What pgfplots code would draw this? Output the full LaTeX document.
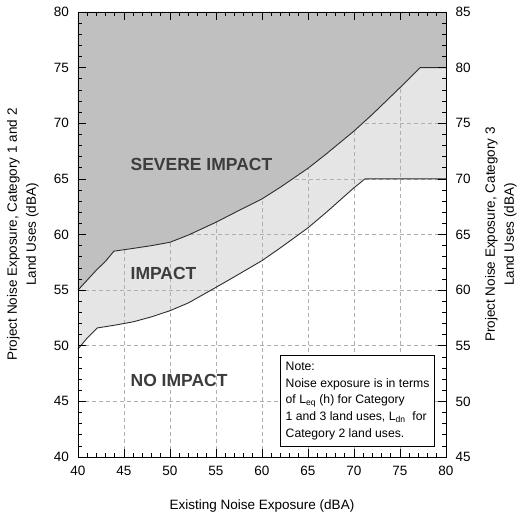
\documentclass[border=0pt]{standalone}
\usepackage{fontspec}
\setmainfont{Liberation Sans}
\usepackage{pgfplots}
\usepackage{pgfplotstable}
\pgfplotsset{compat=1.18}
\definecolor{severe}{RGB}{192,192,192}
\definecolor{impact}{RGB}{229,229,229}
\definecolor{curve}{RGB}{45,45,45}
\definecolor{gridc}{RGB}{175,175,175}
\definecolor{lab}{RGB}{60,60,60}

\pgfplotstableread{
x y
40 49.7
41 50.7
42.1 51.6
44 51.85
46 52.15
48 52.6
50 53.15
52 53.85
55 55.25
57 56.2
60 57.65
62 58.8
65 60.6
67 62.0
70 64.2
71.2 65.0
80 65.0
}\lowercurve

\pgfplotstableread{
x y
40 55.0
42 56.8
43 57.6
43.9 58.5
46 58.75
48 59.0
50 59.3
52 59.95
55 61.1
57 61.95
60 63.2
62 64.25
65 65.95
67 67.25
70 69.3
72 70.8
75 73.2
77.2 75.0
80 75.0
}\uppercurve

\pgfplotsset{base/.style={scale only axis, width=368pt, height=445pt, xmin=40, xmax=80,
  /pgf/number format/assume math mode=true,
  tick label style={font=\fontsize{13.5}{16}\selectfont}}}

\begin{document}
\begin{tikzpicture}
% impact region (below grid)
\begin{axis}[base, ymin=40, ymax=80, hide axis]
\addplot[fill=impact, draw=none] table[x=x,y=y] {\lowercurve} -- (axis cs:80,80) -- (axis cs:40,80) -- cycle;
\end{axis}
% grid, severe region, curves, left/bottom labels
\begin{axis}[base, ymin=40, ymax=80,
  xtick={40,45,...,80}, ytick={40,45,...,80},
  grid=major, major grid style={gridc, dash pattern=on 4pt off 3pt, line width=0.6pt},
  axis line style={draw=none}, major tick length=0pt,
  xticklabel style={yshift=-6pt}, yticklabel shift=5.5pt,
  clip=false]
\addplot[fill=severe, draw=none] table[x=x,y=y] {\uppercurve} -- (axis cs:80,80) -- (axis cs:40,80) -- cycle;
\addplot[curve, line width=0.9pt] table[x=x,y=y] {\lowercurve};
\addplot[curve, line width=0.9pt] table[x=x,y=y] {\uppercurve};
\node[anchor=west, inner sep=0pt, text=lab, font=\bfseries\fontsize{17.5}{20}\selectfont] at (axis cs:45.7,66.25) {SEVERE IMPACT};
\node[anchor=west, inner sep=0pt, text=lab, font=\bfseries\fontsize{17.5}{20}\selectfont] at (axis cs:45.7,56.5) {IMPACT};
\node[anchor=west, inner sep=0pt, text=lab, font=\bfseries\fontsize{17.5}{20}\selectfont] at (axis cs:45.7,46.9) {NO IMPACT};
\node[draw=black, line width=0.6pt, fill=white, anchor=north west, align=left, inner xsep=5pt, inner ysep=7pt,
  font=\fontsize{12.2}{16.7}\selectfont] at (axis cs:62,49.2)
  {Note:\\Noise exposure is in terms\\of L\textsubscript{eq} (h) for Category\\1 and 3 land uses, L\textsubscript{dn}\ \ for\\Category 2 land uses.};
\end{axis}
% ticks on top, right axis
\begin{axis}[base, ymin=45, ymax=85,
  xtick={40,45,...,80}, ytick={45,50,...,85}, xticklabels={},
  ytick pos=both, xtick pos=both, yticklabel pos=right,
  minor tick num=4, major tick length=8pt, minor tick length=4pt, tick align=inside,
  tick style={black, line width=0.6pt}, axis line style={black, line width=0.8pt},
  yticklabel shift=6pt, clip=false]
\coordinate (SW) at (rel axis cs:0,0);
\coordinate (NE) at (rel axis cs:1,1);
\node[yshift=-49pt, font=\fontsize{13.5}{19}\selectfont] at (rel axis cs:0.5,0) {Existing Noise Exposure (dBA)};
\node[xshift=-55pt, rotate=90, align=center, font=\fontsize{13.5}{19}\selectfont] at (rel axis cs:0,0.5)
  {Project Noise Exposure, Category 1 and 2\\Land Uses (dBA)};
\node[xshift=55pt, rotate=90, align=center, font=\fontsize{13.5}{19}\selectfont] at (rel axis cs:1,0.5)
  {Project Noise Exposure, Category 3\\Land Uses (dBA)};
\end{axis}
\pgfresetboundingbox
\path ([xshift=-78pt,yshift=-60pt]SW) rectangle ([xshift=77pt,yshift=12pt]NE);
\end{tikzpicture}
\end{document}
